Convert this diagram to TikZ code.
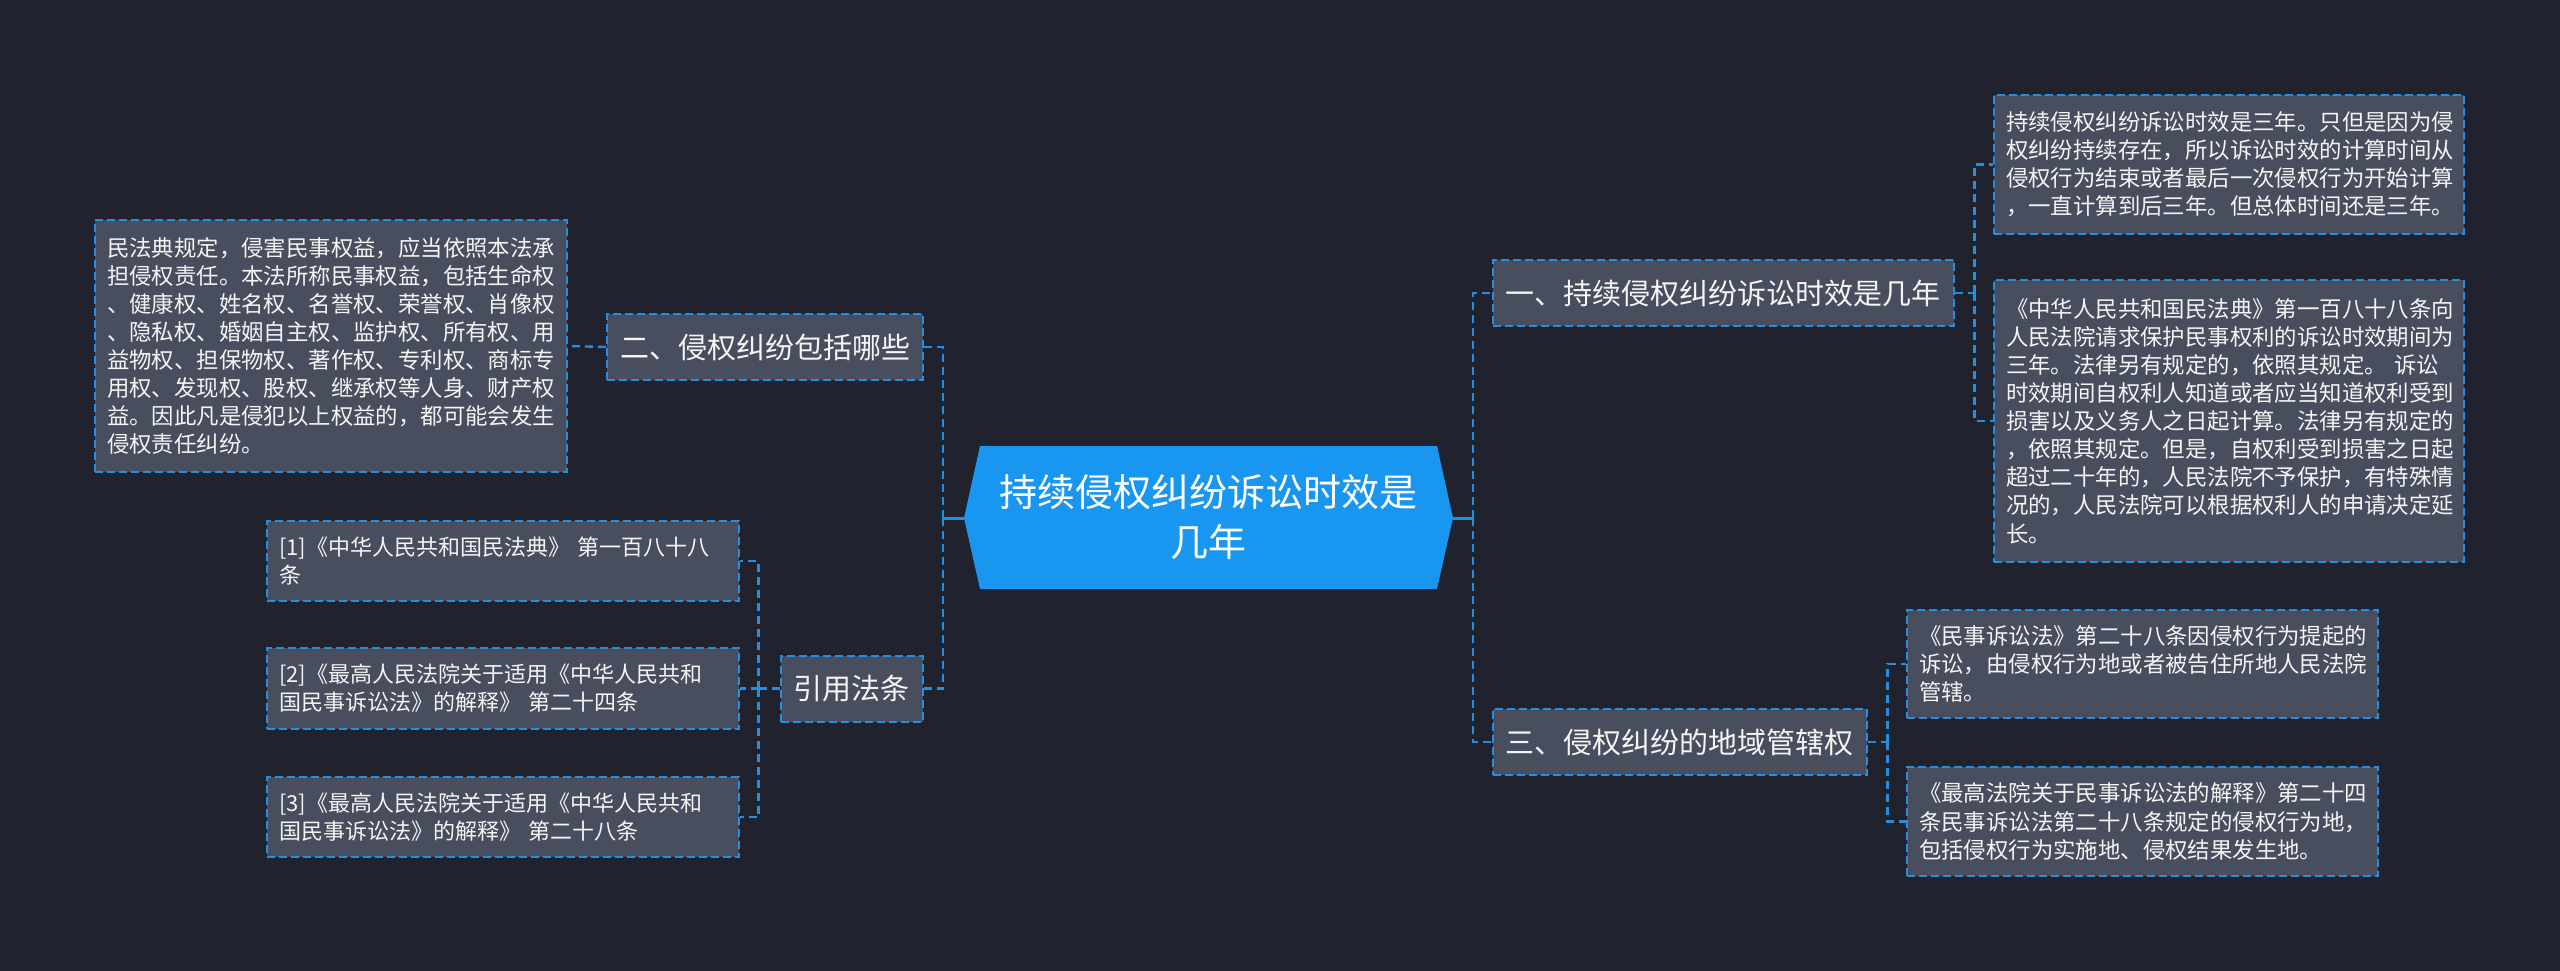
\documentclass[tikz,border=0pt]{standalone}
\usepackage{fontspec}
\setmainfont{Noto Sans CJK SC}
\usetikzlibrary{calc}
\definecolor{bg}{RGB}{32,35,46}
\definecolor{boxfill}{RGB}{72,78,94}
\definecolor{dashblue}{RGB}{36,142,224}
\definecolor{centerblue}{RGB}{25,150,240}
\definecolor{txt}{RGB}{245,245,245}
\tikzset{
  box/.style={draw=dashblue, fill=boxfill, line width=2pt, dash pattern=on 8pt off 4pt,
    text=txt, inner xsep=12pt, inner ysep=0pt, align=left},
  topic/.style={box, font=\fontsize{29}{36}\selectfont, minimum height=66pt, inner xsep=13pt},
  leaf/.style={box, font=\fontsize{22.4}{28.1}\selectfont},
  refleaf/.style={box, font=\fontsize{22}{28}\selectfont},
  conn/.style={draw=dashblue, line width=2.4pt, dash pattern=on 8pt off 5pt},
  stub/.style={draw=dashblue, line width=3pt},
  hub/.style={text=white, align=center, font=\fontsize{38}{50}\selectfont, inner sep=0pt}
}
\begin{document}
\begin{tikzpicture}[x=1pt,y=-1pt]
\fill[bg] (0,0) rectangle (2560,971);
\useasboundingbox (0,0) rectangle (2560,971);

% center hexagon
\coordinate (cL) at (964,518);
\coordinate (cR) at (1453,518);
\fill[centerblue] (980,446) -- (1437,446) -- (cR) -- (1437,589) -- (980,589) -- (cL) -- cycle;
\node[hub] (c) at (1208.5,517.5) {持续侵权纠纷诉讼时效是\\几年};

% left side
\node[topic] (n2) at (765,347) {二、侵权纠纷包括哪些};
\node[topic] (refn) at (851.5,688.5) {引用法条};
\node[leaf, text width=448pt, minimum height=252pt] (l1) at (331,346)
 {民法典规定，侵害民事权益，应当依照本法承\\担侵权责任。本法所称民事权益，包括生命权\\、健康权、姓名权、名誉权、荣誉权、肖像权\\、隐私权、婚姻自主权、监护权、所有权、用\\益物权、担保物权、著作权、专利权、商标专\\用权、发现权、股权、继承权等人身、财产权\\益。因此凡是侵犯以上权益的，都可能会发生\\侵权责任纠纷。};
\node[refleaf, text width=448pt, minimum height=80pt] (f1) at (503,561)
 {[1]《中华人民共和国民法典》~第一百八十八\\条};
\node[refleaf, text width=448pt, minimum height=81pt] (f2) at (503,688.5)
 {[2]《最高人民法院关于适用《中华人民共和\\国民事诉讼法》的解释》~第二十四条};
\node[refleaf, text width=448pt, minimum height=80pt] (f3) at (503,817)
 {[3]《最高人民法院关于适用《中华人民共和\\国民事诉讼法》的解释》~第二十八条};

% right side
\node[topic] (n1) at (1723,293) {一、持续侵权纠纷诉讼时效是几年};
\node[topic] (n3) at (1679.5,742) {三、侵权纠纷的地域管辖权};
\node[leaf, text width=446pt, minimum height=139pt] (r1) at (2229,164.5)
 {持续侵权纠纷诉讼时效是三年。只但是因为侵\\权纠纷持续存在，所以诉讼时效的计算时间从\\侵权行为结束或者最后一次侵权行为开始计算\\，一直计算到后三年。但总体时间还是三年。};
\node[leaf, text width=446pt, minimum height=282pt] (r2) at (2229,421)
 {《中华人民共和国民法典》第一百八十八条向\\人民法院请求保护民事权利的诉讼时效期间为\\三年。法律另有规定的，依照其规定。~诉讼\\时效期间自权利人知道或者应当知道权利受到\\损害以及义务人之日起计算。法律另有规定的\\，依照其规定。但是，自权利受到损害之日起\\超过二十年的，人民法院不予保护，有特殊情\\况的，人民法院可以根据权利人的申请决定延\\长。};
\node[leaf, text width=447pt, minimum height=108pt] (r3) at (2142.5,664)
 {《民事诉讼法》第二十八条因侵权行为提起的\\诉讼，由侵权行为地或者被告住所地人民法院\\管辖。};
\node[leaf, text width=447pt, minimum height=109pt] (r4) at (2142.5,821.5)
 {《最高法院关于民事诉讼法的解释》第二十四\\条民事诉讼法第二十八条规定的侵权行为地，\\包括侵权行为实施地、侵权结果发生地。};

% connectors from center
\coordinate (bL) at (943,518);
\coordinate (bR) at (1473,518);
\draw[stub] (cL) -- (bL);
\draw[stub] (cR) -- (bR);
\draw[conn] (bL) |- (n2.east);
\draw[conn] (bL) |- (refn.east);
\draw[conn] (bR) |- (n1.west);
\draw[conn] (bR) |- (n3.west);

% level-2 connectors
\draw[conn] (n2.west) -- (l1.east);
\draw[conn] (refn.west) -- ++(-21,0) coordinate (bf);
\draw[conn] (bf) |- (f1.east);
\draw[conn] (bf) -- (f2.east);
\draw[conn] (bf) |- (f3.east);
\draw[conn] (n1.east) -- ++(20,0) coordinate (b1);
\draw[conn] (b1) |- (r1.west);
\draw[conn] (b1) |- (r2.west);
\draw[conn] (n3.east) -- ++(20,0) coordinate (b3);
\draw[conn] (b3) |- (r3.west);
\draw[conn] (b3) |- (r4.west);
\end{tikzpicture}
\end{document}
